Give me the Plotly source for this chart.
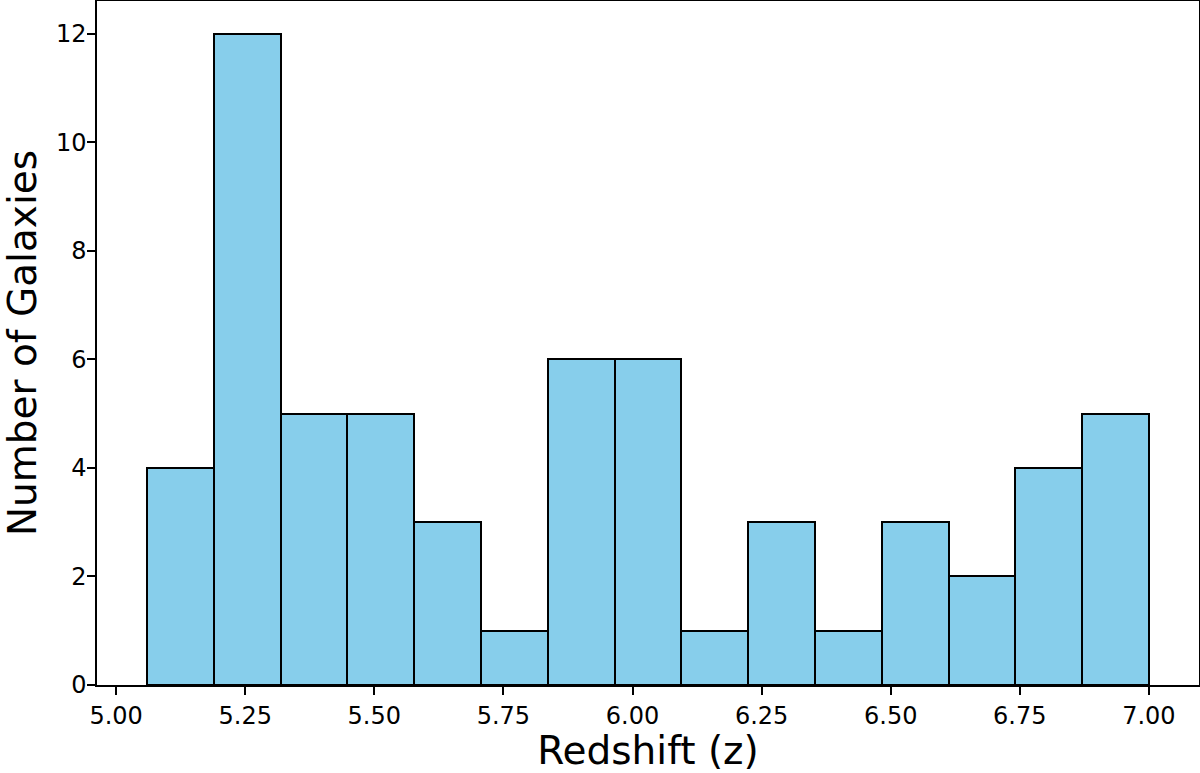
import numpy as np
import plotly.graph_objects as go

# histogram of galaxy redshifts, 15 bins
z_min = 5.06
z_max = 7.0
counts = [4, 12, 5, 5, 3, 1, 6, 6, 1, 3, 1, 3, 2, 4, 5]

x_ticks = [5.00, 5.25, 5.50, 5.75, 6.00, 6.25, 6.50, 6.75, 7.00]
y_ticks = [0, 2, 4, 6, 8, 10, 12]

edges = np.linspace(z_min, z_max, len(counts) + 1)
centers = (edges[:-1] + edges[1:]) / 2
width = edges[1] - edges[0]
pad = 0.05 * (z_max - z_min)

fig = go.Figure()
fig.add_trace(go.Bar(
    x=centers,
    y=counts,
    width=width,
    marker=dict(color='#87CEEB', line=dict(color='black', width=2)),
    name='Galaxies'
))

axis_font = dict(family='DejaVu Sans', size=24, color='black')
title_font = dict(family='DejaVu Sans', size=39, color='black')
fig.update_layout(
    width=1200, height=773,
    margin=dict(l=97, r=1, t=1, b=88),
    plot_bgcolor='white',
    paper_bgcolor='white',
    showlegend=False,
    bargap=0,
    font=dict(family='DejaVu Sans', color='black'),
)
fig.update_xaxes(
    range=[z_min - pad, z_max + pad],
    tickvals=x_ticks,
    ticktext=['%.2f' % v for v in x_ticks],
    ticks='outside', ticklen=8, tickwidth=1.5, tickcolor='black',
    tickfont=axis_font,
    showline=True, linecolor='black', linewidth=1.5, mirror=True,
    showgrid=False, zeroline=False,
    title=dict(text='Redshift (z)', font=title_font, standoff=6),
    automargin=False,
)
fig.update_yaxes(
    range=[0, max(counts) * 1.05],
    tickvals=y_ticks,
    ticks='outside', ticklen=8, tickwidth=1.5, tickcolor='black',
    tickfont=axis_font,
    ticklabelstandoff=-4,
    showline=True, linecolor='black', linewidth=1.5, mirror=True,
    showgrid=False, zeroline=False,
    title=dict(text='Number of Galaxies', font=title_font, standoff=18),
    automargin=False,
)

# drop the default page margin so the 1200x773 figure fills the window
fig.write_html("out.html", config={'displayModeBar': False},
               post_script="document.body.style.margin='0';")
